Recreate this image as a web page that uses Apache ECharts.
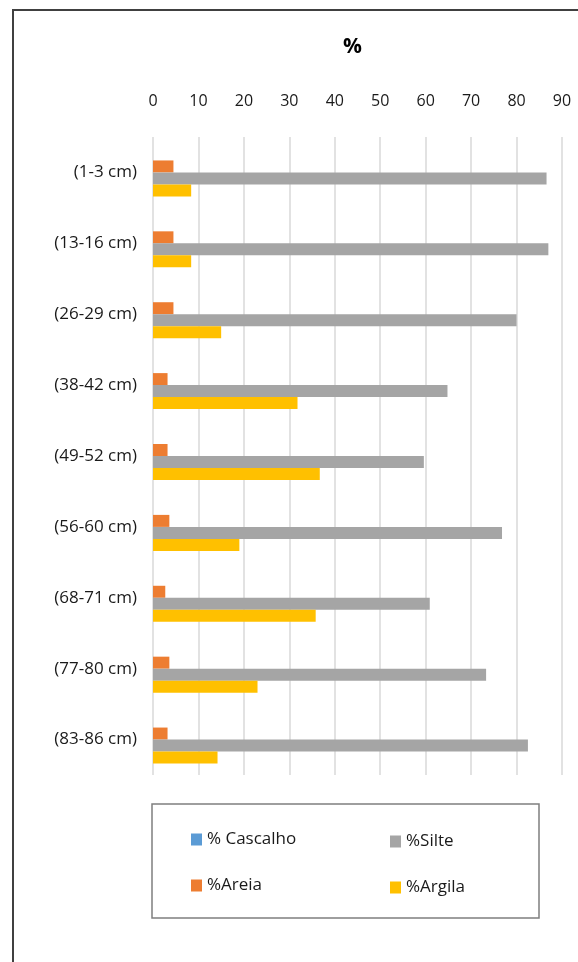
<!DOCTYPE html>
<html>
<head>
<meta charset="utf-8">
<script src="https://cdn.jsdelivr.net/npm/echarts@6/dist/echarts.min.js"></script>
<style>
  html, body { margin: 0; padding: 0; background: #ffffff; }
  #chart { width: 578px; height: 962px; }
</style>
</head>
<body>
<div id="chart"></div>
<script>
// Soil profile: particle-size fractions per depth interval
const depths = ['(1-3 cm)', '(13-16 cm)', '(26-29 cm)', '(38-42 cm)', '(49-52 cm)',
                '(56-60 cm)', '(68-71 cm)', '(77-80 cm)', '(83-86 cm)'];
const cascalho = [0, 0, 0, 0, 0, 0, 0, 0, 0];
const areia   = [4.5, 4.5, 4.5, 3.2, 3.2, 3.6, 2.7, 3.6, 3.2];
const silte   = [86.6, 87.0, 80.0, 64.8, 59.6, 76.8, 60.9, 73.3, 82.5];
const argila  = [8.4, 8.4, 15.0, 31.8, 36.7, 19.0, 35.8, 23.0, 14.2];
const percentTicks = [0, 10, 20, 30, 40, 50, 60, 70, 80, 90];

const FONT = 'Open Sans';
const chart = echarts.init(document.getElementById('chart'));

function barSeries(name, data, color) {
  return {
    name: name,
    type: 'bar',
    data: data,
    barWidth: 12,
    barGap: '0%',
    itemStyle: { color: color },
    emphasis: { disabled: true }
  };
}

const legendText = { fontSize: 17, color: '#1a1a1a', lineHeight: 17, fontFamily: FONT };

chart.setOption({
  animation: false,
  textStyle: { fontFamily: FONT },
  title: {
    text: '%',
    left: 343,
    top: 37,
    padding: 0,
    textStyle: { fontFamily: FONT, fontSize: 21, fontWeight: 'bold', color: '#000000' }
  },
  grid: { left: 153, right: 16, top: 137, bottom: 187 },
  xAxis: {
    type: 'value',
    position: 'top',
    min: percentTicks[0],
    max: percentTicks[percentTicks.length - 1],
    interval: 10,
    axisLine: { show: false },
    axisTick: { show: false },
    axisLabel: { fontSize: 16, color: '#1a1a1a', margin: 28, fontFamily: FONT },
    splitLine: { show: true, lineStyle: { color: '#d9d9d9', width: 1.5 } }
  },
  yAxis: {
    type: 'category',
    data: depths,
    inverse: true,
    axisLine: { show: false },
    axisTick: { show: false },
    axisLabel: { fontSize: 17, color: '#1a1a1a', margin: 16, fontFamily: FONT }
  },
  legend: [
    {
      orient: 'vertical',
      left: 191,
      top: 831,
      padding: 0,
      itemWidth: 11,
      itemHeight: 12,
      itemGap: 29,
      icon: 'rect',
      data: ['% Cascalho', '%Areia'],
      textStyle: legendText
    },
    {
      orient: 'vertical',
      left: 390,
      top: 833,
      padding: 0,
      itemWidth: 11,
      itemHeight: 12,
      itemGap: 29,
      icon: 'rect',
      data: ['%Silte', '%Argila'],
      textStyle: legendText
    }
  ],
  graphic: [
    {
      type: 'rect',
      shape: { x: 13, y: 10, width: 600, height: 1000 },
      style: { fill: 'none', stroke: '#404040', lineWidth: 2 },
      silent: true
    },
    {
      type: 'rect',
      shape: { x: 152, y: 804, width: 387, height: 114 },
      style: { fill: 'none', stroke: '#7f7f7f', lineWidth: 1.5 },
      silent: true
    }
  ],
  series: [
    barSeries('% Cascalho', cascalho, '#5B9BD5'),
    barSeries('%Areia', areia, '#ED7D31'),
    barSeries('%Silte', silte, '#A5A5A5'),
    barSeries('%Argila', argila, '#FFC000')
  ]
});
</script>
</body>
</html>
